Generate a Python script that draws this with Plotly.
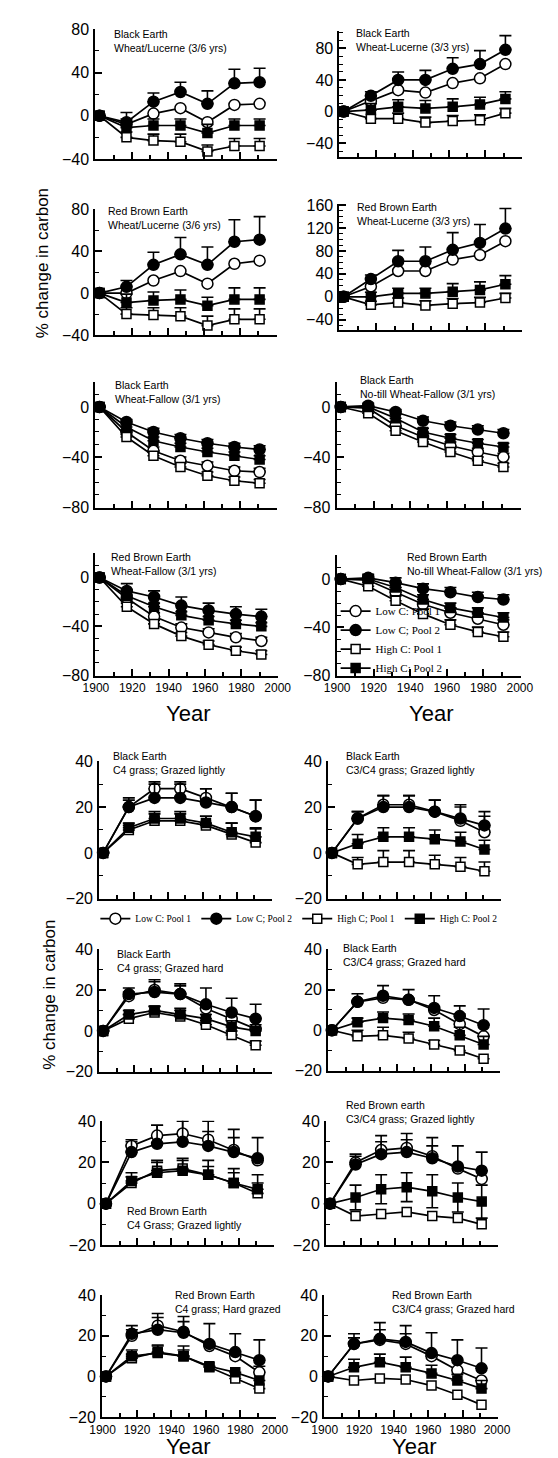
import plotly.graph_objects as go

W, H = 558, 1458

YEARS = [1902, 1917, 1932, 1947, 1962, 1977, 1991]
SERIES_TOP = ["Low C: Pool 1", "Low C; Pool 2", "High C: Pool 1", "High C: Pool 2"]
SERIES_BOTTOM = ["Low C: Pool 1", "Low C; Pool 2", "High C; Pool 1", "High C: Pool 2"]
X_TICKS = [1900, 1920, 1940, 1960, 1980, 2000]

TITLES = [
    "Black Earth<br>Wheat/Lucerne (3/6 yrs)",
    "Black Earth<br>Wheat-Lucerne (3/3 yrs)",
    "Red Brown Earth<br>Wheat/Lucerne (3/6 yrs)",
    "Red Brown Earth<br>Wheat-Lucerne (3/3 yrs)",
    "Black Earth<br>Wheat-Fallow (3/1 yrs)",
    "Black Earth<br>No-till Wheat-Fallow (3/1 yrs)",
    "Red Brown Earth<br>Wheat-Fallow (3/1 yrs)",
    "Red Brown Earth<br>No-till Wheat-Fallow (3/1 yrs)",
    "Black Earth<br>C4 grass; Grazed lightly",
    "Black Earth<br>C3/C4 grass; Grazed lightly",
    "Black Earth<br>C4 grass; Grazed hard",
    "Black Earth<br>C3/C4 grass; Grazed hard",
    "Red Brown Earth<br>C4 Grass; Grazed lightly",
    "Red Brown earth<br>C3/C4 grass; Grazed lightly",
    "Red Brown Earth<br>C4 grass; Hard grazed",
    "Red Brown Earth<br>C3/C4 grass; Grazed hard",
]

# ---- data: LP1 = Low C Pool 1, LP2 = Low C Pool 2, HP1 = High C Pool 1, HP2 = High C Pool 2
P01_LP1 = [0, -8, 2, 7, -6, 10, 11]
P01_LP2 = [0, -6, 13, 22, 11, 30, 31]
P01_HP1 = [0, -20, -23, -24, -33, -28, -28]
P01_HP2 = [0, -11, -9, -9, -16, -9, -9]
P01_E = [[0]*7, [0, 9, 8, 9, 12, 13, 13], [0, 5, 6, 7, 6, 7, 7], [0, 8, 6, 6, 8, 6, 6]]

P02_LP1 = [0, 13, 27, 24, 36, 42, 60]
P02_LP2 = [0, 20, 40, 40, 54, 60, 78]
P02_HP1 = [0, -9, -9, -14, -12, -11, -2]
P02_HP2 = [0, 2, 6, 4, 6, 9, 16]
P02_E = [[0]*7, [0, 5, 10, 12, 14, 17, 18], [0, 0, 7, 7, 7, 7, 6], [0, 8, 9, 10, 10, 9, 9]]

P03_LP1 = [0, 0, 12, 21, 9, 28, 31]
P03_LP2 = [0, 6, 27, 37, 27, 49, 51]
P03_HP1 = [0, -20, -21, -22, -31, -25, -25]
P03_HP2 = [0, -9, -7, -6, -12, -6, -6]
P03_E = [[0]*7, [0, 6, 12, 16, 17, 21, 22], [0, 6, 7, 8, 9, 10, 10], [0, 8, 8, 9, 8, 11, 11]]

P04_LP1 = [0, 18, 45, 45, 65, 73, 97]
P04_LP2 = [0, 31, 62, 62, 82, 94, 119]
P04_HP1 = [0, -14, -10, -15, -12, -10, -2]
P04_HP2 = [0, 0, 6, 6, 9, 12, 22]
P04_E = [[0]*7, [0, 7, 19, 25, 30, 32, 35], [0, 6, 8, 8, 9, 9, 8], [0, 8, 9, 9, 14, 14, 15]]

P05_LP1 = [0, -20, -35, -43, -47, -51, -52]
P05_LP2 = [0, -12, -20, -25, -29, -32, -34]
P05_HP1 = [0, -24, -39, -48, -55, -59, -61]
P05_HP2 = [0, -16, -27, -32, -36, -39, -42]
P05_E = [[0, 2, 3, 3, 3, 3, 3], [0, 2, 3, 3, 3, 3, 3], [0, 2, 3, 3, 3, 3, 3], [0, 2, 3, 3, 3, 3, 3]]

P06_LP1 = [0, -1, -15, -24, -31, -36, -40]
P06_LP2 = [0, 1, -4, -11, -15, -18, -21]
P06_HP1 = [0, -5, -19, -28, -36, -43, -48]
P06_HP2 = [0, 0, -9, -20, -25, -29, -32]
P06_E = [[0, 2, 3, 3, 3, 3, 3], [0, 2, 2, 3, 3, 3, 3], [0, 2, 3, 3, 3, 3, 3], [0, 2, 3, 3, 3, 3, 3]]

P07_LP1 = [0, -17, -32, -41, -45, -49, -52]
P07_LP2 = [0, -11, -16, -23, -27, -30, -32]
P07_HP1 = [0, -24, -38, -48, -55, -60, -63]
P07_HP2 = [0, -15, -24, -31, -35, -38, -40]
P07_E = [[0, 3, 3, 3, 3, 3, 3], [0, 6, 5, 7, 6, 6, 6], [0, 3, 3, 3, 3, 3, 3], [0, 3, 3, 3, 3, 3, 3]]

P08_LP1 = [0, -1, -11, -21, -28, -33, -38]
P08_LP2 = [0, 1, -3, -8, -11, -15, -17]
P08_HP1 = [0, -6, -18, -29, -38, -44, -48]
P08_HP2 = [0, 0, -7, -17, -24, -28, -32]
P08_E = [[0, 3, 4, 4, 4, 4, 4], [0, 3, 4, 4, 4, 4, 4], [0, 3, 4, 4, 4, 4, 4], [0, 3, 4, 4, 4, 4, 4]]

P09_LP1 = [0, 20, 28, 28, 24, 20, 16]
P09_LP2 = [0, 20, 24, 24, 22, 20, 16]
P09_HP1 = [0, 10, 14, 14, 12, 8, 4.5]
P09_HP2 = [0, 11, 15, 15, 13, 9, 7]
P09_E = [[0, 3, 3, 3, 4, 6, 7], [0, 4, 6, 6, 6, 6, 7], [0, 2, 3, 3, 4, 5, 6], [0, 2, 3, 3, 3, 4, 4]]

P10_LP1 = [0, 15, 21, 21, 18, 14, 9]
P10_LP2 = [0, 15, 20, 20, 18, 15, 12]
P10_HP1 = [0, -5, -4, -4, -5, -6, -8]
P10_HP2 = [0, 4, 7, 7, 6, 5, 1.5]
P10_E = [[0, 3, 4, 4, 5, 6, 7], [0, 3, 5, 5, 5, 6, 6], [0, 3, 5, 5, 4, 4, 4], [0, 4, 4, 4, 4, 4, 4]]

P11_LP1 = [0, 17, 20, 18, 11, 6, 1]
P11_LP2 = [0, 18, 19, 18, 13, 9, 6]
P11_HP1 = [0, 6, 9, 7, 3, -2, -7]
P11_HP2 = [0, 8, 10, 8, 6, 2, 0]
P11_E = [[0, 2, 4, 4, 0, 0, 0], [0, 3, 6, 5, 8, 7, 7], [0, 2, 3, 3, 2, 2, 2], [0, 2, 2, 3, 2, 3, 3]]

P12_LP1 = [0, 14, 16, 15, 10, 3, -3]
P12_LP2 = [0, 14, 17, 15, 11, 7, 2.5]
P12_HP1 = [0, -3, -2.5, -4, -7, -10, -14]
P12_HP2 = [0, 4, 6, 5, 2, -2.5, -7]
P12_E = [[0, 0, 0, 0, 0, 5, 6], [0, 4, 5, 5, 6, 5, 8], [0, 3, 4, 3, 2, 0, 0], [0, 2, 3, 3, 4, 4, 4]]

P13_LP1 = [0, 28, 33, 34, 31, 26, 21]
P13_LP2 = [0, 25, 29, 30, 28, 25, 22]
P13_HP1 = [0, 10, 16, 17, 14, 10, 5]
P13_HP2 = [0, 11, 15, 16, 14, 10, 7]
P13_E = [[0, 2, 5, 6, 4, 6, 0], [0, 6, 9, 11, 12, 11, 10], [0, 3, 4, 4, 4, 5, 5], [0, 4, 6, 6, 7, 7, 7]]

P14_LP1 = [0, 20, 26, 27, 23, 17, 12]
P14_LP2 = [0, 19, 24, 25, 22, 18, 16]
P14_HP1 = [0, -6, -5, -4, -6, -7, -10]
P14_HP2 = [0, 3, 7, 8, 6, 3, 1]
P14_E = [[0, 3, 4, 4, 5, 0, 0], [0, 5, 9, 9, 10, 10, 9], [0]*7, [0, 6, 7, 7, 8, 7, 8]]
P14_HP2_LOW = [0, 6, 7, 7, 8, 7, 8]

P15_LP1 = [0, 20, 25, 22, 15, 10, 2]
P15_LP2 = [0, 21, 23, 21.5, 16, 12, 8]
P15_HP1 = [0, 9, 12, 10, 4.5, -1, -6]
P15_HP2 = [0, 10, 11.5, 10, 5, 2, -2]
P15_E = [[0, 3, 4, 5, 0, 0, 3], [0, 4, 8, 8, 10, 9, 10], [0, 2, 3, 3, 0, 0, 0], [0, 3, 4, 5, 0, 0, 0]]

P16_LP1 = [0, 16, 18, 16, 10, 3, -2]
P16_LP2 = [0, 16, 18.5, 17, 11.5, 8, 4]
P16_HP1 = [0, -2, -1, -1.5, -4.5, -9, -14]
P16_HP2 = [0, 4.5, 7, 4.5, 1.5, -2, -6]
P16_E = [[0, 3, 5, 5, 0, 0, 0], [0, 5, 8, 8, 10, 10, 10], [0]*7, [0, 4, 4, 5, 4, 3, 4]]

DATA = [
    (P01_LP1, P01_LP2, P01_HP1, P01_HP2, P01_E),
    (P02_LP1, P02_LP2, P02_HP1, P02_HP2, P02_E),
    (P03_LP1, P03_LP2, P03_HP1, P03_HP2, P03_E),
    (P04_LP1, P04_LP2, P04_HP1, P04_HP2, P04_E),
    (P05_LP1, P05_LP2, P05_HP1, P05_HP2, P05_E),
    (P06_LP1, P06_LP2, P06_HP1, P06_HP2, P06_E),
    (P07_LP1, P07_LP2, P07_HP1, P07_HP2, P07_E),
    (P08_LP1, P08_LP2, P08_HP1, P08_HP2, P08_E),
    (P09_LP1, P09_LP2, P09_HP1, P09_HP2, P09_E),
    (P10_LP1, P10_LP2, P10_HP1, P10_HP2, P10_E),
    (P11_LP1, P11_LP2, P11_HP1, P11_HP2, P11_E),
    (P12_LP1, P12_LP2, P12_HP1, P12_HP2, P12_E),
    (P13_LP1, P13_LP2, P13_HP1, P13_HP2, P13_E),
    (P14_LP1, P14_LP2, P14_HP1, P14_HP2, P14_E),
    (P15_LP1, P15_LP2, P15_HP1, P15_HP2, P15_E),
    (P16_LP1, P16_LP2, P16_HP1, P16_HP2, P16_E),
]

# ---- geometry (pixels): x0, x1, ytop, ybot, ymin, ymax, dtick, minor, show x labels
GEOM = [
    (78, 268, 13, 145, -40.4, 80.4, 40, 20, False),
    (334, 526, 15, 143, -58, 102, 40, 10, False),
    (78, 268, 195, 323, -40.4, 80.4, 40, 20, False),
    (334, 526, 190, 317, -57, 162, 40, 10, False),
    (78, 268, 370, 497, -80.4, 20, 40, 10, False),
    (331, 524, 370, 497, -80.4, 20, 40, 10, False),
    (78, 270, 543, 667, -80.4, 20, 40, 10, True),
    (331, 524, 545, 667, -80.4, 20, 40, 10, True),
    (82, 263, 753, 893, -20.2, 40.2, 20, 10, False),
    (322, 503, 753, 893, -20.2, 40.2, 20, 10, False),
    (82, 263, 943, 1068, -20.2, 40.2, 20, 10, False),
    (322, 502, 943, 1067, -20.2, 40.2, 20, 10, False),
    (85, 265, 1117, 1243, -20.2, 40.2, 20, 10, False),
    (320, 500, 1117, 1243, -20.2, 40.2, 20, 10, False),
    (85, 267, 1293, 1417, -20.2, 40.2, 20, 10, True),
    (318, 500, 1293, 1417, -20.2, 40.2, 20, 10, True),
]
TITLE_POS = [
    (95, 10), (349, 9), (89, 189), (350, 185), (96, 365), (353, 360), (92, 539), (403, 539),
    (94, 740), (339, 740), (99, 940), (336, 934), (109, 1200), (339, 1093), (159, 1285), (387, 1285),
]

SYMBOLS = [("circle", "white"), ("circle", "black"), ("square", "white"), ("square", "black")]

fig = go.Figure()
layout = dict(width=W, height=H, margin=dict(l=0, r=0, t=0, b=0),
              paper_bgcolor="white", plot_bgcolor="white", annotations=[])

AX_FONT = dict(family="Liberation Sans, Arial", size=16, color="black")

for i, (geo, dat) in enumerate(zip(GEOM, DATA)):
    n = i + 1
    x0, x1, yt, yb, ymin, ymax, dt, mdt, showx = geo
    xname = "xaxis" if n == 1 else f"xaxis{n}"
    yname = "yaxis" if n == 1 else f"yaxis{n}"
    xref = "x" if n == 1 else f"x{n}"
    yref = "y" if n == 1 else f"y{n}"
    layout[xname] = dict(
        domain=[x0 / W, x1 / W], anchor=yref, range=[1899.7, 2000.4],
        showline=True, linecolor="black", linewidth=2, showgrid=False, zeroline=False,
        ticks="inside", ticklen=7, tickwidth=1.5, tickcolor="black",
        tickvals=X_TICKS, showticklabels=showx,
        tickfont=dict(family="Liberation Sans, Arial", size=12, color="black"),
        minor=dict(dtick=10, tick0=1900, ticks="inside", ticklen=4, tickwidth=1.5, tickcolor="black"),
    )
    layout[yname] = dict(
        domain=[1 - yb / H, 1 - yt / H], anchor=xref, range=[ymin, ymax],
        showline=True, linecolor="black", linewidth=2, showgrid=False, zeroline=False,
        ticks="inside", ticklen=7, tickwidth=1.5, tickcolor="black",
        tick0=0, dtick=dt, tickfont=AX_FONT, ticklabelstandoff=1,
        minor=dict(dtick=mdt, tick0=0, ticks="inside", ticklen=4, tickwidth=1.2, tickcolor="black"),
    )
    series = dat[:4]
    errs = dat[4]
    names = SERIES_TOP if n <= 8 else SERIES_BOTTOM
    for k in range(4):
        sym, fill = SYMBOLS[k]
        err = errs[k]
        minus = P14_HP2_LOW if (n == 14 and k == 3) else [0] * 7
        tr = dict(
            x=YEARS, y=series[k], mode="lines+markers", name=names[k],
            line=dict(color="black", width=1.7),
            marker=dict(symbol=sym, size=11 if sym == "circle" else 9, color=fill,
                        line=dict(color="black", width=1.5)),
            xaxis=xref, yaxis=yref, cliponaxis=False,
            showlegend=(n in (8, 9)),
            legend="legend" if n == 8 else "legend2",
        )
        if any(err):
            tr["error_y"] = dict(type="data", symmetric=False, array=err, arrayminus=minus,
                                 color="black", thickness=1.6, width=6)
        fig.add_trace(go.Scatter(**tr))
    tx, ty = TITLE_POS[i]
    layout["annotations"].append(dict(
        text=TITLES[i], x=tx / W, y=1 - ty / H, xref="paper", yref="paper",
        xanchor="left", yanchor="top", align="left", showarrow=False,
        font=dict(family="Liberation Sans, Arial", size=10.5, color="black")))

# axis titles
for (tx, ty, txt, ang, sz) in [
    (22, 250, "% change in carbon", -90, 17),
    (29, 990, "% change in carbon", -90, 17),
    (175, 705, "Year", 0, 22),
    (430, 705, "Year", 0, 22),
    (175, 1446, "Year", 0, 22),
    (412, 1446, "Year", 0, 22),
]:
    layout["annotations"].append(dict(
        text=txt, x=tx / W, y=1 - ty / H, xref="paper", yref="paper",
        xanchor="center", yanchor="middle", showarrow=False, textangle=ang,
        font=dict(family="Liberation Sans, Arial", size=sz, color="black")))

layout["legend"] = dict(x=330 / W, y=1 - 587 / H, xanchor="left", yanchor="top",
                        bgcolor="rgba(0,0,0,0)", tracegroupgap=0, itemwidth=30,
                        font=dict(family="Liberation Serif, Times New Roman", size=11, color="black"))
layout["legend2"] = dict(orientation="h", x=78 / W, y=1 - 898 / H, xanchor="left", yanchor="top",
                         bgcolor="rgba(0,0,0,0)", itemwidth=30,
                         font=dict(family="Liberation Serif, Times New Roman", size=9.5, color="black"))

fig.update_layout(**layout)
fig.write_html("out.html")
